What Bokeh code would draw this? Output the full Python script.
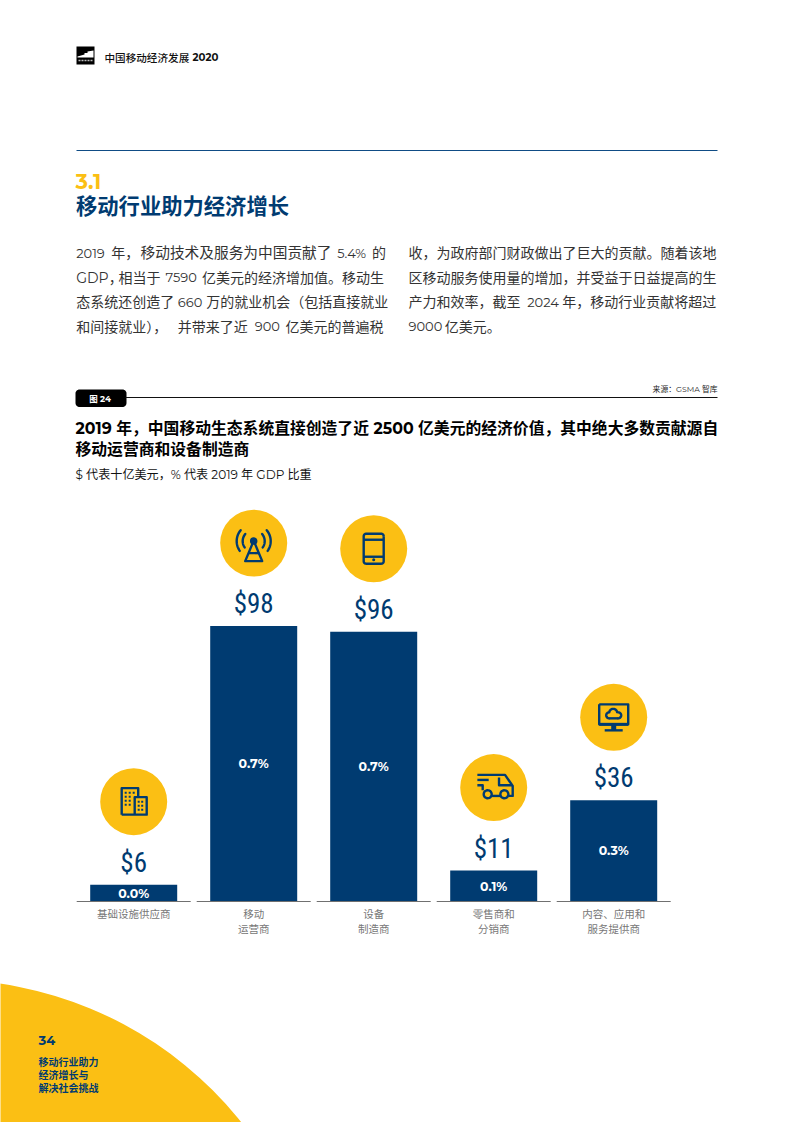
import numpy as np
from bokeh.plotting import figure
from bokeh.models import Range1d
from bokeh.core.properties import value
from bokeh.embed import file_html
from bokeh.resources import INLINE

# ---- chart data ----
categories = [["基础设施供应商"], ["移动", "运营商"], ["设备", "制造商"], ["零售商和", "分销商"], ["内容、应用和", "服务提供商"]]
billions = [6, 98, 96, 11, 36]
dollar_labels = ["$6", "$98", "$96", "$11", "$36"]
gdp_share = ["0.0%", "0.7%", "0.7%", "0.1%", "0.3%"]

# ---- page texts ----
header = ["中国移动经济发展", "2020"]
section_no = "3.1"
section_title = "移动行业助力经济增长"
body_rows = [
    [(75.7, "2019"), (110.7, "年，"), (140, "移动技术及服务为中国贡献了"), (336.7, "5.4%"), (371.5, "的"),
     (408, "收，为政府部门财政做出了巨大的贡献。随着该地")],
    [(75.7, "GDP，"), (118, "相当于"), (165, "7590"), (201.5, "亿美元的经济增加值。移动生"),
     (408, "区移动服务使用量的增加，并受益于日益提高的生")],
    [(75.7, "态系统还创造了"), (177.3, "660"), (205.7, "万的就业机会（包括直接就业"),
     (408, "产力和效率，截至"), (526.7, "2024"), (561.7, "年，移动行业贡献将超过")],
    [(75.7, "和间接就业），"), (177.3, "并带来了近"), (254.3, "900"), (285, "亿美元的普遍税"),
     (408, "9000"), (444.3, "亿美元。")],
]
fig_tag = "图 24"
source = "来源：GSMA 智库"
chart_title = ["2019 年，中国移动生态系统直接创造了近 2500 亿美元的经济价值，其中绝大多数贡献源自",
               "移动运营商和设备制造商"]
chart_sub = "$ 代表十亿美元，% 代表 2019 年 GDP 比重"
page_no = "34"
footer = ["移动行业助力", "经济增长与", "解决社会挑战"]

NAVY = "#003b71"
YELLOW = "#fbbf14"
CJK = "Montserrat, Inter, 'Noto Sans CJK SC'"
CJKM = "'Noto Sans CJK SC Medium', 'Noto Sans CJK SC'"
PX = 2.81        # pixels per billion
BASE = 901       # page y of zero line
STEP = 120       # pixels between bars
X0 = 133.2       # page x of first bar

p = figure(width=793, height=1122, output_backend="svg", toolbar_location=None,
           x_range=Range1d(-X0 / STEP, (793 - X0) / STEP),
           y_range=Range1d((BASE - 1122) / PX, BASE / PX),
           min_border=0, margin=(0, 0, 0, 0))
p.axis.visible = False
p.grid.visible = False
p.outline_line_color = None
p.background_fill_color = "white"
p.extra_x_ranges["page"] = Range1d(0, 793)
p.extra_y_ranges["page"] = Range1d(1122, 0)
PG = dict(x_range_name="page", y_range_name="page")


def txt(x, y, s, size, color="#000000", weight="normal", align="left", font=CJK):
    p.text([x], [y], text=[s], text_font=value(font), text_font_size=f"{size}px",
           text_font_style=weight, text_color=color, text_align=align,
           text_baseline="middle", **PG)


def line(xs, ys, w=2.4, color=NAVY, cap="butt"):
    p.line(xs, ys, line_width=w, line_color=color, line_cap=cap, line_join="round", **PG)


def arc(cx, cy, r, a0, a1, w=2.4):
    t = np.radians(np.linspace(a0, a1, 24))
    line(cx + r * np.cos(t), cy - r * np.sin(t), w, cap="round")


def round_box(x0, y0, x1, y1, r):
    xs, ys = [], []
    for cx, cy, a in [(x1 - r, y0 + r, 0), (x0 + r, y0 + r, 90), (x0 + r, y1 - r, 180), (x1 - r, y1 - r, 270)]:
        t = np.radians(np.linspace(a, a + 90, 8))
        xs += list(cx + r * np.cos(t))
        ys += list(cy - r * np.sin(t))
    return xs + xs[:1], ys + ys[:1]


# ---- page furniture ----
p.circle([-55], [1357], radius=378, fill_color=YELLOW, line_color=None, **PG)

p.quad(left=[76], right=[94], top=[46], bottom=[64], fill_color="#000000", line_color=None, **PG)
p.patch([77, 84, 84, 87, 87, 93, 93, 77], [56, 54, 52.5, 52.5, 51, 50, 57, 57], fill_color="white", line_color=None, **PG)
p.line([78, 92], [60, 60], line_color="#bbbbbb", line_width=1.5, line_dash="2 1", **PG)
txt(104, 56.5, header[0], 10.6, "#111111", "normal", font=CJKM)
txt(192, 56.5, header[1], 10.2, "#111111", "bold")

p.line([76, 717], [150, 150], line_color="#0f4c85", line_width=1, **PG)
txt(75, 181, section_no, 21, YELLOW, "bold")
txt(75.5, 205, section_title, 21.3, NAVY, "bold")

for i, row in enumerate(body_rows):
    yy = 252.5 + i * 24.6
    for x, s in row:
        size = 14.7 if s.startswith("移动技术") else (13 if s[0].isdigit() else 14)
        txt(x, yy, s, size, "#333333")

xs_, ys_ = round_box(75, 389, 126, 406.5, 4)
p.patch(xs_, ys_, fill_color="#000000", line_color=None, **PG)
p.line([125, 717], [397, 397], line_color="#111111", line_width=1, **PG)
txt(99.5, 398, fig_tag, 8.5, "white", "bold", "center")
txt(717, 388, source, 7.8, "#222222", "normal", "right")
txt(75, 428, chart_title[0], 15.8, "#000000", "bold")
txt(75, 449, chart_title[1], 15.8, "#000000", "bold")
txt(75, 474, chart_sub, 12.1, "#111111")

txt(38, 1040, page_no, 13, NAVY, "bold")
for i, s in enumerate(footer):
    txt(38, 1062 + i * 13, s, 10, NAVY, "bold")

# ---- chart ----
idx = np.arange(len(billions))
vals = np.array(billions, dtype=float)
p.vbar(x=idx, top=vals, bottom=0, width=87 / STEP, fill_color=NAVY, line_color=None)
p.segment(x0=idx - 0.475, x1=idx + 0.475, y0=0, y1=0, line_color="#707070", line_width=1.2)
p.scatter(x=idx, y=vals + 83 / PX, size=67, marker="circle", fill_color=YELLOW, line_color=None)
p.text(x=idx, y=vals + 22 / PX, text=dollar_labels,
       text_font=value("'Roboto Condensed', 'DejaVu Sans Condensed', Roboto"),
       text_font_size="27px", text_color=NAVY, text_align="center", text_baseline="middle")
p.text(x=idx, y=vals / 2, text=gdp_share, text_font=value(CJK), text_font_size="12.5px",
       text_font_style="bold", text_color="white", text_align="center", text_baseline="middle")
for i, lines in enumerate(categories):
    for j, s in enumerate(lines):
        p.text(x=[i], y=[0], text=[s], y_offset=12.5 + j * 15, text_font=value(CJK), text_font_size="10.5px",
               text_color="#777777", text_align="center", text_baseline="middle")


def centre(i):
    return X0 + i * STEP, BASE - billions[i] * PX - 83


# building icon
cx, cy = centre(0)
line([cx - 12, cx - 12, cx + 4.5, cx + 4.5], [cy + 13, cy - 13.5, cy - 13.5, cy - 5])
line([cx - 12, cx + 13, cx + 13, cx + 1, cx + 1], [cy + 13, cy + 13, cy - 4.5, cy - 4.5, cy + 13])
p.scatter(x=[cx + dx for dx in (-8, -4, 0, -8, -4, -8, -4, -8, -4, 5, 8.5, 5, 8.5, 5, 8.5)],
          y=[cy + dy for dy in (-9, -9, -9, -5, -5, -1, -1, 3, 3, 0, 0, 4, 4, 8, 8)],
          size=2, marker="square", fill_color=NAVY, line_color=None, **PG)

# tower icon
cx, cy = centre(1)
ax, ay = cx, cy - 2
p.scatter([ax], [ay], size=7.5, marker="circle", fill_color=NAVY, line_color=None, **PG)
line([ax - 1, ax - 8.5, ax + 8.5, ax + 1], [ay + 2, ay + 20, ay + 20, ay + 2])
line([ax - 5, ax + 5], [ay + 12, ay + 12])
for r in (11, 17):
    arc(ax, ay, r, 140, 215)
    arc(ax, ay, r, -35, 40)

# phone icon
cx, cy = centre(2)
xs_, ys_ = round_box(cx - 10, cy - 15, cx + 10, cy + 15, 2.5)
line(xs_, ys_)
line([cx - 10, cx + 10], [cy - 9, cy - 9])
line([cx - 10, cx + 10], [cy + 8, cy + 8])
p.scatter([cx], [cy + 11], size=3, marker="circle", fill_color=NAVY, line_color=None, **PG)

# van icon
cx, cy = centre(3)
X = lambda v: cx + (v - 181) / 3
Y = lambda v: cy + (v - 350) / 3
line([X(132), X(215), X(238), X(238), X(226)], [Y(312), Y(312), Y(345), Y(375), Y(375)])
line([X(200), X(176)], [Y(375), Y(375)])
line([X(132), X(166)], [Y(327), Y(327)])
line([X(132), X(148), X(148)], [Y(343), Y(343), Y(358)])
line([X(197), X(197), X(215), X(236)], [Y(320), Y(343), Y(343), Y(343)])
for wx in (163, 213):
    arc(X(wx), Y(370), 4, 0, 360)

# monitor icon
cx, cy = centre(4)
line([cx - 14.5, cx + 14.5, cx + 14.5, cx - 14.5, cx - 14.5], [cy - 13, cy - 13, cy + 7, cy + 7, cy - 13])
line([cx - 14.5, cx + 14.5], [cy + 7, cy + 7], 3)
line([cx, cx], [cy + 7, cy + 13], 5)
line([cx - 9, cx + 9], [cy + 13, cy + 13])
arc(cx - 4.5, cy - 2, 3, 90, 270)
arc(cx - 0.5, cy - 4.5, 4, 10, 160)
arc(cx + 4.5, cy - 2, 3, -90, 90)
line([cx - 4.5, cx + 4.5], [cy + 1, cy + 1])

open("out.html", "w").write(file_html(p, INLINE))
